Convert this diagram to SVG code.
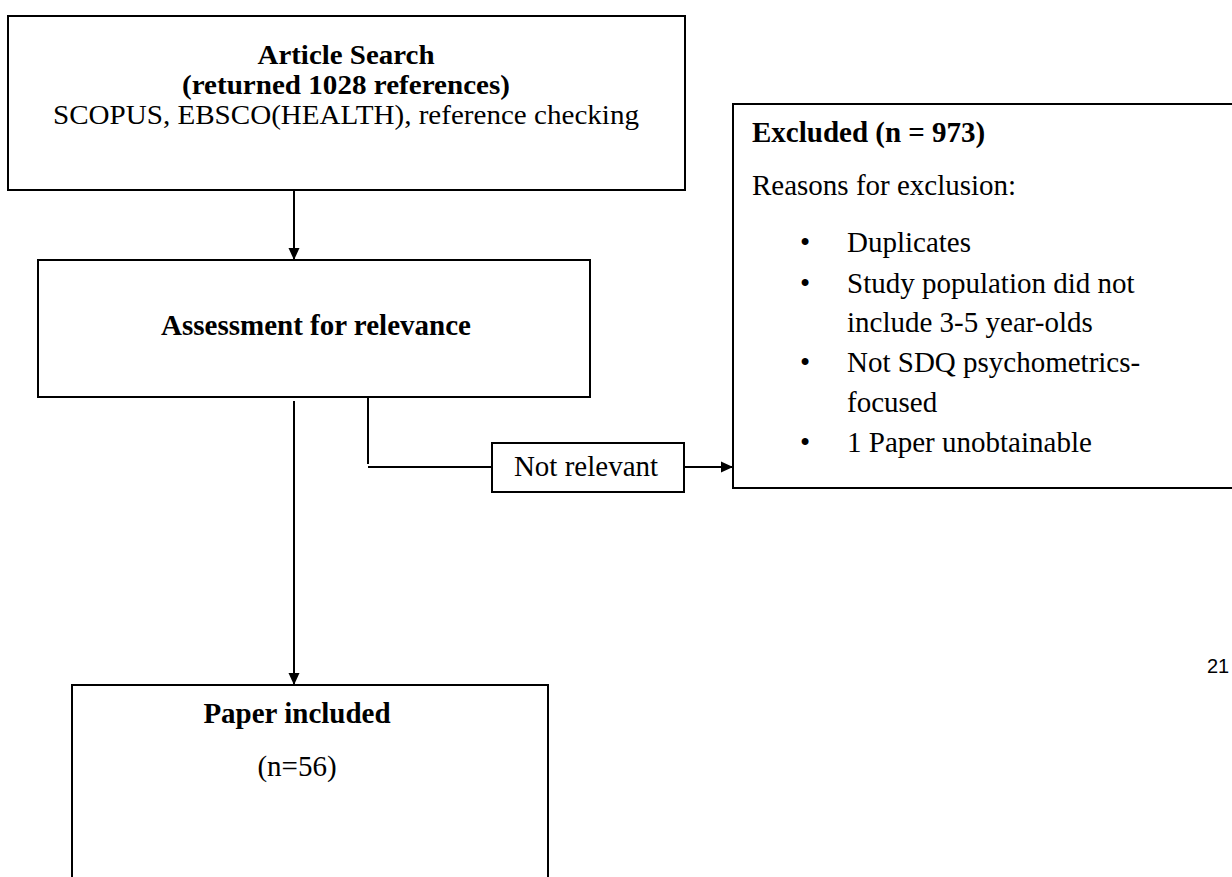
<svg xmlns="http://www.w3.org/2000/svg" width="1232" height="877" viewBox="0 0 1232 877">
<style>
.box{fill:#fff;stroke:#000;stroke-width:2}
.t{font-family:"Liberation Serif","Times New Roman",serif;font-size:29px;fill:#000}
.t1{font-family:"Liberation Serif","Times New Roman",serif;font-size:27px;fill:#000}
.b{font-weight:bold}
.c{text-anchor:middle}
.ln{fill:none;stroke:#000;stroke-width:2}
</style>
<defs>
<marker id="ah" markerWidth="12" markerHeight="12" refX="11" refY="6" orient="auto" markerUnits="userSpaceOnUse" viewBox="0 0 12 12">
<path d="M0,0.5 L12,6 L0,11.5 Z" fill="#000"/>
</marker>
</defs>
<rect width="1232" height="877" fill="#fff"/>
<g id="connectors">
<line class="ln" x1="294" y1="190" x2="294" y2="259" marker-end="url(#ah)"/>
<polyline class="ln" points="368,397 368,464"/>
<line class="ln" x1="368" y1="467" x2="492" y2="467"/>
<line class="ln" x1="684" y1="467" x2="732" y2="467" marker-end="url(#ah)"/>
<line class="ln" x1="294" y1="401" x2="294" y2="684" marker-end="url(#ah)"/>
</g>
<g id="article-search">
<rect class="box" x="8" y="16" width="677" height="174"/>
<text class="t1 b c" x="346" y="64" textLength="177" lengthAdjust="spacingAndGlyphs">Article Search</text>
<text class="t1 b c" x="346" y="94" textLength="328" lengthAdjust="spacingAndGlyphs">(returned 1028 references)</text>
<text class="t1 c" x="346" y="124" textLength="586" lengthAdjust="spacingAndGlyphs">SCOPUS, EBSCO(HEALTH), reference checking</text>
</g>
<g id="assessment">
<rect class="box" x="38" y="260" width="552" height="137"/>
<text class="t b c" x="316" y="335">Assessment for relevance</text>
</g>
<g id="not-relevant">
<rect class="box" x="492" y="443" width="192" height="49"/>
<text class="t c" x="586" y="476">Not relevant</text>
</g>
<g id="excluded">
<rect class="box" x="733" y="104" width="510" height="384"/>
<text class="t b" x="752" y="142">Excluded (n = 973)</text>
<text class="t" x="752" y="195">Reasons for exclusion:</text>
<g class="t">
<text x="800" y="252">•</text><text x="847" y="252">Duplicates</text>
<text x="800" y="293">•</text><text x="847" y="293">Study population did not</text>
<text x="847" y="332">include 3-5 year-olds</text>
<text x="800" y="372">•</text><text x="847" y="372">Not SDQ psychometrics-</text>
<text x="847" y="412">focused</text>
<text x="800" y="452">•</text><text x="847" y="452">1 Paper unobtainable</text>
</g>
</g>
<g id="paper-included">
<rect class="box" x="72" y="685" width="476" height="200"/>
<text class="t b c" x="297" y="723">Paper included</text>
<text class="t c" x="297" y="776">(n=56)</text>
</g>
<text x="1207" y="673" style="font-family:'Liberation Sans',Arial,sans-serif;font-size:20px;fill:#000">21</text>
</svg>
